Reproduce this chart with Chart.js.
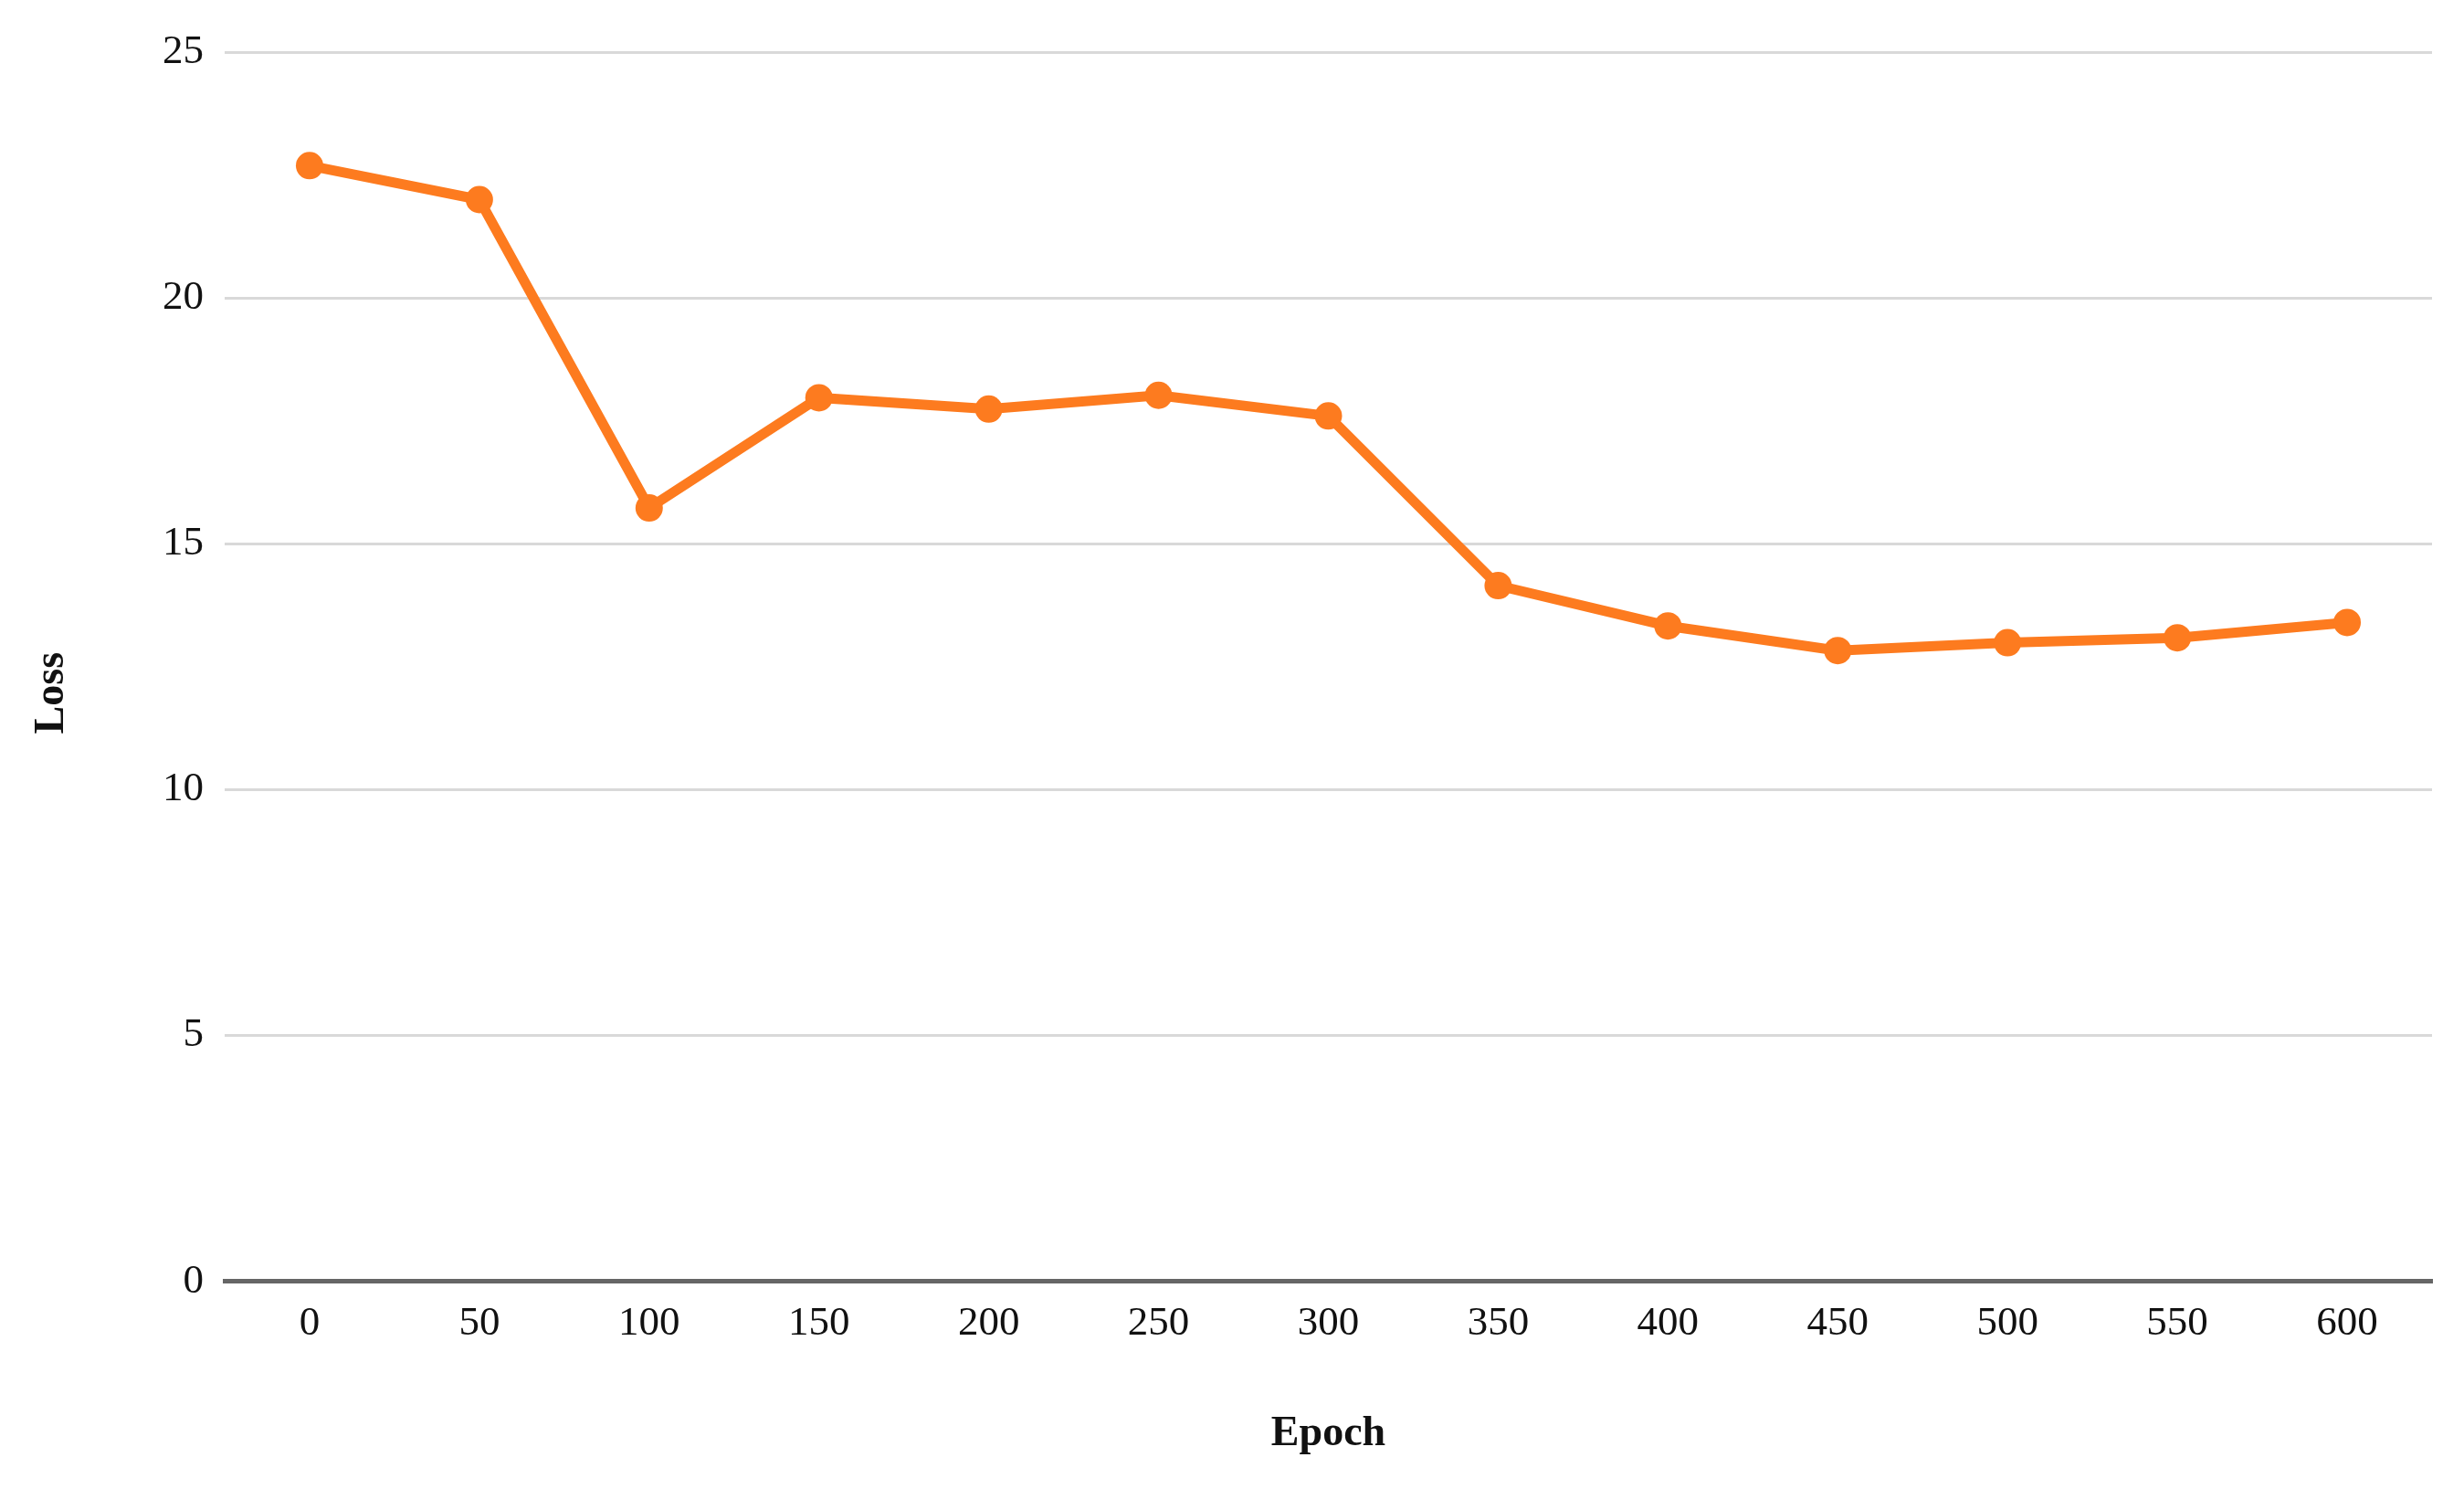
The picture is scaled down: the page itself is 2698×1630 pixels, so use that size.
<!DOCTYPE html>
<html>
<head>
<meta charset="utf-8">
<script src="https://cdn.jsdelivr.net/npm/chart.js@4/dist/chart.umd.min.js"></script>
<style>
  html, body { margin: 0; padding: 0; background: #fff; }
  #wrap { width: 2698px; height: 1630px; position: relative; }
</style>
</head>
<body>
<div id="wrap"><canvas id="lossChart"></canvas></div>
<script>
// --- data ---
const epochs = ['0', '50', '100', '150', '200', '250', '300', '350', '400', '450', '500', '550', '600'];
const lossValues = [22.69, 22.0, 15.73, 17.97, 17.74, 18.02, 17.6, 14.15, 13.33, 12.83, 12.99, 13.09, 13.4];
const yTicks = [0, 5, 10, 15, 20, 25];

const orange = '#fd7b1f';
const serif = "'Liberation Serif', 'Times New Roman', serif";

new Chart(document.getElementById('lossChart'), {
    type: 'line',
    data: {
        labels: epochs,
        datasets: [{
            label: 'Loss',
            data: lossValues,
            borderColor: orange,
            backgroundColor: orange,
            borderWidth: 11,
            pointRadius: 15,
            pointBorderWidth: 0,
            pointBackgroundColor: orange,
            tension: 0,
            fill: false
        }]
    },
    options: {
        responsive: true,
        maintainAspectRatio: false,
        animation: false,
        layout: { padding: { top: 57, right: 35, bottom: 32, left: 30 } },
        plugins: {
            legend: { display: false },
            tooltip: { enabled: false }
        },
        scales: {
            x: {
                offset: true,
                grid: { display: false, drawTicks: false },
                border: { display: true, color: '#666666', width: 5 },
                ticks: { color: '#111', padding: 19, font: { family: serif, size: 45 } },
                title: {
                    display: true,
                    text: 'Epoch',
                    color: '#111',
                    font: { family: serif, size: 46, weight: 'bold' },
                    padding: { top: 48, bottom: 0 }
                }
            },
            y: {
                min: 0,
                max: 25,
                afterBuildTicks: (scale) => { scale.ticks = yTicks.map(v => ({ value: v })); },
                afterFit: (scale) => { scale.width = 216; },
                grid: { color: '#d9d9d9', lineWidth: 3, drawTicks: false },
                border: { display: false },
                ticks: { color: '#111', padding: 23, font: { family: serif, size: 45 } },
                title: {
                    display: true,
                    text: 'Loss     ',
                    color: '#111',
                    font: { family: serif, size: 46, weight: 'bold' },
                    padding: 0
                }
            }
        }
    }
});
</script>
</body>
</html>
